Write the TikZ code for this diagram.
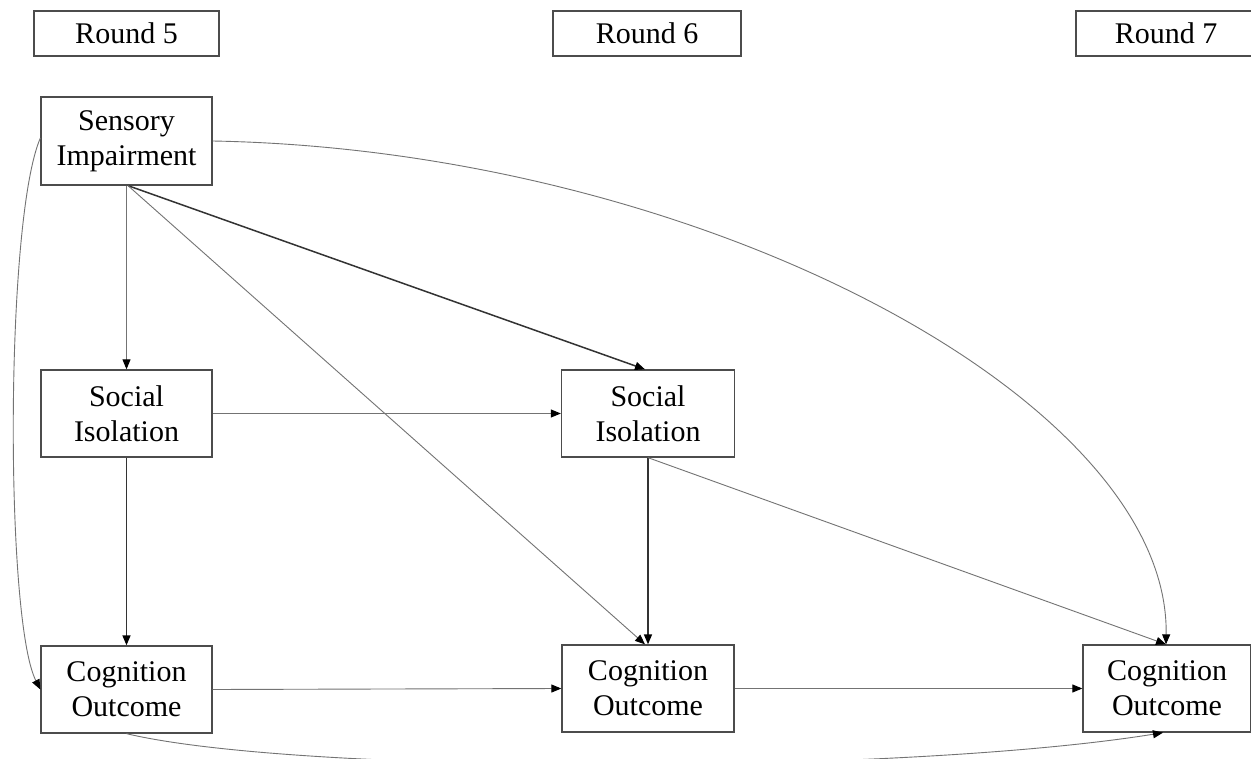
\documentclass[tikz,border=0pt]{standalone}
\usepackage{fontspec}
\setmainfont{Liberation Serif}
\usetikzlibrary{arrows.meta,calc}
\begin{document}
\begin{tikzpicture}[x=1pt,y=-1pt,
  box/.style={draw=black!70,line width=1.3pt,fill=white,inner sep=0pt,align=center,
    font=\fontsize{30}{35}\selectfont,text=black},
  roundbox/.style={box,minimum height=45pt},
  varbox/.style={box,minimum height=87pt},
  tip/.style={-{Triangle[length=10pt,width=8pt,black]}},
  thin/.style={draw=black!55,line width=0.9pt,tip},
  thick/.style={draw=black!80,line width=1.5pt,tip}
]
\useasboundingbox[fill=white] (0,0) rectangle (1251,759);
% round headers
\node[roundbox,minimum width=185pt] (r5) at (126.5,33.5) {Round 5};
\node[roundbox,minimum width=188pt] (r6) at (647,33.5) {Round 6};
\node[roundbox,minimum width=180pt] (r7) at (1166,33.5) {Round 7};
% variables
\node[varbox,minimum width=171pt,minimum height=88pt] (sens) at (126.5,141) {Sensory\\Impairment};
\node[varbox,minimum width=171pt] (socl) at (126.5,413.5) {Social\\Isolation};
\node[varbox,minimum width=171pt] (cogl) at (126.5,689.5) {Cognition\\Outcome};
\node[varbox,minimum width=173pt] (socm) at (648,413.5) {Social\\Isolation};
\node[varbox,minimum width=172pt] (cogm) at (648,688.5) {Cognition\\Outcome};
\node[varbox,minimum width=168pt] (cogr) at (1167,688.5) {Cognition\\Outcome};
% helper end points
\coordinate (sfrom) at ($(sens.south)+(1.5,0)$);
\coordinate (socmto) at ($(socm.north)+(-3,0)$);
\coordinate (cogmtoa) at ($(cogm.north)+(-3,0)$);
\coordinate (cogrtop) at ($(cogr.north)+(-1,0)$);
\coordinate (cogrbot) at ($(cogr.south)+(-4,0)$);
\coordinate (senswest) at ($(sens.west)+(0,-3)$);
% connectors
\draw[thin] (sens.south) -- (socl.north);
\draw[thick] (sfrom) -- (socmto);
\draw[thin] (sfrom) -- (cogmtoa);
\draw[thin] (sens.east) .. controls (700,150) and (1170,400) .. (cogrtop);
\draw[thin] (senswest) .. controls (5,220) and (5,620) .. (cogl.west);
\draw[thin] (socl.east) -- (socm.west);
\draw[thick] (socl.south) -- (cogl.north);
\draw[thick] (socm.south) -- (cogm.north);
\draw[thin] (socm.south) -- (cogrtop);
\draw[thin] (cogl.east) -- (cogm.west);
\draw[thin] (cogm.east) -- (cogr.west);
\draw[thin] (cogl.south) .. controls (300,775) and (900,775) .. (cogrbot);
\end{tikzpicture}
\end{document}
